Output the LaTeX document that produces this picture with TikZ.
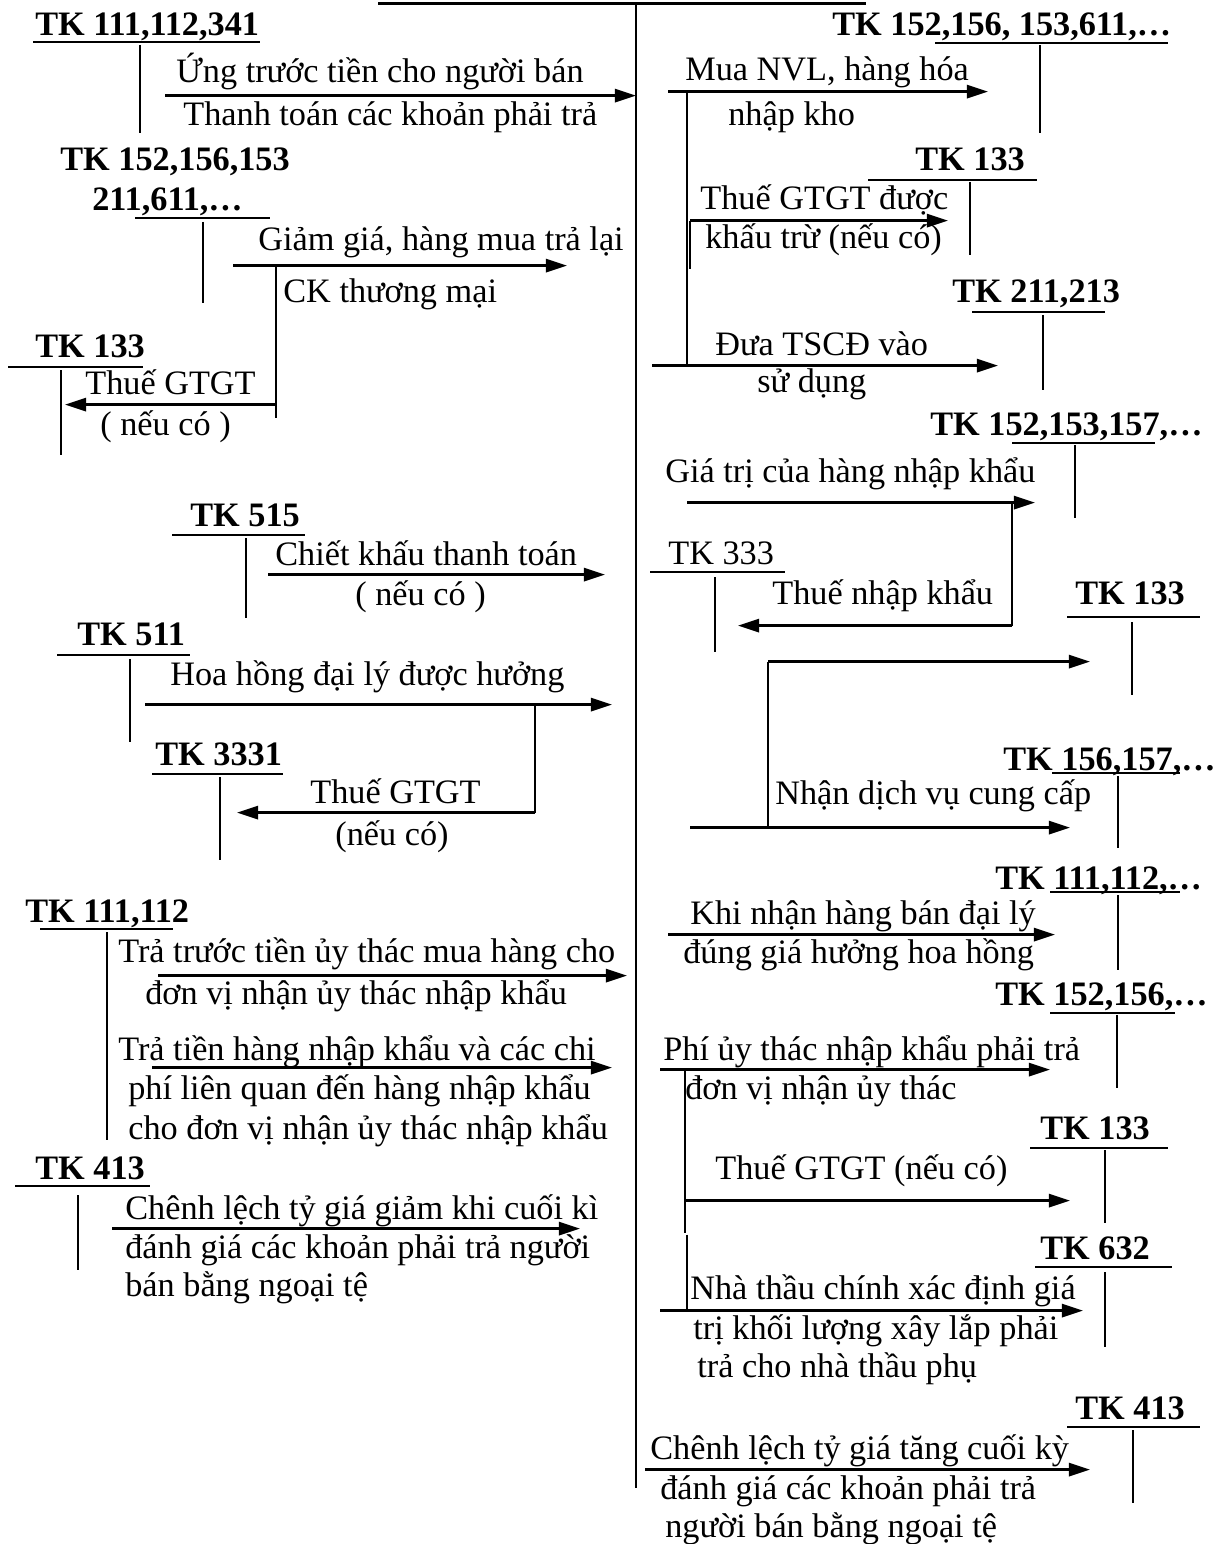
\documentclass[tikz,border=0pt]{standalone}
\usepackage{fontspec}
\setmainfont{Liberation Serif}
\usetikzlibrary{arrows.meta}
\newcommand{\diagfont}{\fontsize{19.5}{23}\selectfont}

\begin{document}
\begin{tikzpicture}[
    x=0.02cm, y=-0.02cm,
    every node/.style={inner sep=0pt, anchor=base west, yshift=-1.5pt, font=\diagfont},
    acct/.style={font=\diagfont\bfseries},
    tline/.style={line width=0.8pt},
    uline/.style={line width=1.1pt},
    arr/.style={line width=1.4pt, -{Triangle[length=12pt,width=7.5pt]}}
]
\useasboundingbox (0,0) rectangle (1224,1544);

% Frame
\coordinate (topL) at (378,1);
\coordinate (topR) at (866,1);
\coordinate (midT) at (636,0);
\coordinate (midB) at (636,1485);
\draw[line width=2pt] (topL) -- (topR);
\draw[line width=0.7pt] (midT) -- (midB);

% ---------------- Left side ----------------
% TK 111,112,341
\node[acct] (tk111a) at (35,33) {TK 111,112,341};
\draw[uline] (33,42) -- (260,42);
\draw[tline] (140,45) -- (140,133);
\node (ungtruoc) at (176,80) {Ứng trước tiền cho người bán};
\node (thanhtoan) at (183,123) {Thanh toán các khoản phải trả};
\coordinate (a1s) at (165,93);
\coordinate (a1e) at (636,93);
\draw[arr] (a1s) -- (a1e);

% TK 152,156,153 / 211,611
\node[acct] (tk152a) at (60,168) {TK 152,156,153};
\node[acct] (tk152b) at (92,208) {211,611,…};
\draw[uline] (135,218) -- (270,218);
\draw[tline] (203,222) -- (203,303);
\node (giamgia) at (258,248) {Giảm giá, hàng mua trả lại};
\node (ckthuongmai) at (283,300) {CK thương mại};
\coordinate (a2s) at (233,263);
\coordinate (a2e) at (567,263);
\coordinate (a2b) at (276,263);
\coordinate (a2k) at (276,415);
\coordinate (a3s) at (276,402);
\coordinate (a3e) at (65,402);
\draw[arr] (a2s) -- (a2e);
\draw[tline] (a2b) -- (a2k);
\draw[arr] (a3s) -- (a3e);

% TK 133
\node[acct] (tk133a) at (35,355) {TK 133};
\draw[uline] (8,367) -- (143,367);
\draw[tline] (61,370) -- (61,455);
\node (thuegtgta) at (85,392) {Thuế GTGT};
\node (neucoa) at (100,433) {( nếu có )};

% TK 515
\node[acct] (tk515) at (190,524) {TK 515};
\draw[uline] (172,535) -- (305,535);
\draw[tline] (246,538) -- (246,618);
\node (chietkhau) at (275,563) {Chiết khấu thanh toán};
\node (neucob) at (355,603) {( nếu có )};
\coordinate (a4s) at (268,572);
\coordinate (a4e) at (605,572);
\draw[arr] (a4s) -- (a4e);

% TK 511
\node[acct] (tk511) at (77,643) {TK 511};
\draw[uline] (57,655) -- (190,655);
\draw[tline] (130,659) -- (130,742);
\node (hoahong) at (170,683) {Hoa hồng đại lý được hưởng};
\coordinate (a5s) at (145,702);
\coordinate (a5e) at (612,702);
\coordinate (a5b) at (535,702);
\coordinate (a6s) at (535,810);
\coordinate (a6e) at (237,810);
\draw[arr] (a5s) -- (a5e);
\draw[tline] (a5b) -- (a6s);
\draw[arr] (a6s) -- (a6e);

% TK 3331
\node[acct] (tk3331) at (155,763) {TK 3331};
\draw[uline] (152,774) -- (283,774);
\draw[tline] (220,777) -- (220,860);
\node (thuegtgtb) at (310,801) {Thuế GTGT};
\node (neucoc) at (335,843) {(nếu có)};

% TK 111,112
\node[acct] (tk111b) at (25,920) {TK 111,112};
\draw[uline] (40,929) -- (173,929);
\draw[tline] (107,932) -- (107,1140);
\node (tratruoc) at (118,960) {Trả trước tiền ủy thác mua hàng cho};
\node (donvia) at (145,1002) {đơn vị nhận ủy thác nhập khẩu};
\coordinate (a7s) at (158,973);
\coordinate (a7e) at (627,973);
\draw[arr] (a7s) -- (a7e);
\node (tratien) at (118,1058) {Trả tiền hàng nhập khẩu và các chi};
\node (philienquan) at (128,1097) {phí liên quan đến hàng nhập khẩu};
\node (chodonvi) at (128,1137) {cho đơn vị nhận ủy thác nhập khẩu};
\coordinate (a8s) at (152,1065);
\coordinate (a8e) at (612,1065);
\draw[arr] (a8s) -- (a8e);

% TK 413
\node[acct] (tk413a) at (35,1177) {TK 413};
\draw[uline] (15,1186) -- (150,1186);
\draw[tline] (78,1195) -- (78,1270);
\node (chenhgiam) at (125,1217) {Chênh lệch tỷ giá giảm khi cuối kì};
\node (danhgiaa) at (125,1256) {đánh giá các khoản phải trả người};
\node (banbanga) at (125,1294) {bán bằng ngoại tệ};
\coordinate (a9s) at (112,1226);
\coordinate (a9e) at (580,1226);
\draw[arr] (a9s) -- (a9e);

% ---------------- Right side ----------------
% TK 152,156,153,611
\node[acct] (tk152c) at (832,33) {TK 152,156, 153,611,…};
\draw[uline] (935,43) -- (1168,43);
\draw[tline] (1040,45) -- (1040,133);
\node (muanvl) at (685,78) {Mua NVL, hàng hóa};
\node (nhapkho) at (728,123) {nhập kho};
\coordinate (b1s) at (668,89);
\coordinate (b1e) at (988,89);
\coordinate (b1b) at (687,89);
\coordinate (b1k) at (687,363);
\draw[arr] (b1s) -- (b1e);
\draw[tline] (b1b) -- (b1k);

% TK 133
\node[acct] (tk133b) at (915,168) {TK 133};
\draw[uline] (868,180) -- (1037,180);
\draw[tline] (970,182) -- (970,255);
\node (thueduoc) at (700,207) {Thuế GTGT được};
\node (khautru) at (705,246) {khấu trừ (nếu có)};
\coordinate (b2s) at (690,218);
\coordinate (b2e) at (948,218);
\coordinate (b2k) at (690,266);
\draw[arr] (b2s) -- (b2e);
\draw[tline] (b2s) -- (b2k);

% TK 211,213
\node[acct] (tk211) at (952,300) {TK 211,213};
\draw[uline] (972,312) -- (1105,312);
\draw[tline] (1043,315) -- (1043,390);
\node (duatscd) at (715,353) {Đưa TSCĐ vào};
\node (sudung) at (757,390) {sử dụng};
\coordinate (b3s) at (652,363);
\coordinate (b3e) at (998,363);
\draw[arr] (b3s) -- (b3e);

% TK 152,153,157
\node[acct] (tk152d) at (930,433) {TK 152,153,157,…};
\draw[uline] (1012,443) -- (1155,443);
\draw[tline] (1075,445) -- (1075,518);
\node (giatri) at (665,480) {Giá trị của hàng nhập khẩu};
\coordinate (b4s) at (687,500);
\coordinate (b4e) at (1035,500);
\coordinate (b4b) at (1012,500);
\coordinate (b5s) at (1012,623);
\coordinate (b5e) at (738,623);
\draw[arr] (b4s) -- (b4e);
\draw[tline] (b4b) -- (b5s);
\draw[arr] (b5s) -- (b5e);

% TK 333
\node (tk333) at (668,562) {TK 333};
\draw[uline] (650,572) -- (785,572);
\draw[tline] (715,577) -- (715,652);
\node (thuenk) at (772,602) {Thuế nhập khẩu};

% TK 133
\node[acct] (tk133c) at (1075,602) {TK 133};
\draw[uline] (1067,617) -- (1200,617);
\draw[tline] (1132,622) -- (1132,695);
\coordinate (b6s) at (768,659);
\coordinate (b6e) at (1090,659);
\coordinate (b6k) at (768,825);
\draw[arr] (b6s) -- (b6e);
\draw[tline] (b6s) -- (b6k);

% TK 156,157
\node[acct] (tk156) at (1003,768) {TK 156,157,…};
\draw[uline] (1052,773) -- (1180,773);
\draw[tline] (1118,776) -- (1118,848);
\node (nhandv) at (775,802) {Nhận dịch vụ cung cấp};
\coordinate (b7s) at (690,825);
\coordinate (b7e) at (1070,825);
\draw[arr] (b7s) -- (b7e);

% TK 111,112
\node[acct] (tk111c) at (995,887) {TK 111,112,…};
\draw[uline] (1050,892) -- (1180,892);
\draw[tline] (1118,895) -- (1118,970);
\node (khinhan) at (690,922) {Khi nhận hàng bán đại lý};
\node (dunggia) at (683,961) {đúng giá hưởng hoa hồng};
\coordinate (b8s) at (668,932);
\coordinate (b8e) at (1055,932);
\draw[arr] (b8s) -- (b8e);

% TK 152,156
\node[acct] (tk152e) at (995,1003) {TK 152,156,…};
\draw[uline] (1050,1013) -- (1175,1013);
\draw[tline] (1117,1015) -- (1117,1088);
\node (phiuythac) at (663,1058) {Phí ủy thác nhập khẩu phải trả};
\node (donvib) at (685,1097) {đơn vị nhận ủy thác};
\coordinate (b9s) at (660,1067);
\coordinate (b9e) at (1050,1067);
\coordinate (b9b) at (685,1067);
\coordinate (b9k) at (685,1230);
\draw[arr] (b9s) -- (b9e);
\draw[tline] (b9b) -- (b9k);

% TK 133
\node[acct] (tk133d) at (1040,1137) {TK 133};
\draw[uline] (1030,1148) -- (1168,1148);
\draw[tline] (1105,1150) -- (1105,1223);
\node (thuegtgtc) at (715,1177) {Thuế GTGT (nếu có)};
\coordinate (b10s) at (685,1198);
\coordinate (b10e) at (1070,1198);
\draw[arr] (b10s) -- (b10e);

% TK 632
\node[acct] (tk632) at (1040,1257) {TK 632};
\draw[uline] (1035,1267) -- (1172,1267);
\draw[tline] (1105,1272) -- (1105,1347);
\node (nhathau) at (690,1297) {Nhà thầu chính xác định giá};
\node (trikhoi) at (693,1337) {trị khối lượng xây lắp phải};
\node (trachonha) at (697,1375) {trả cho nhà thầu phụ};
\coordinate (b11s) at (660,1308);
\coordinate (b11e) at (1083,1308);
\coordinate (b11b) at (687,1232);
\coordinate (b11k) at (687,1308);
\draw[arr] (b11s) -- (b11e);
\draw[line width=1.3pt] (b11b) -- (b11k);

% TK 413
\node[acct] (tk413b) at (1075,1417) {TK 413};
\draw[uline] (1067,1427) -- (1200,1427);
\draw[tline] (1133,1430) -- (1133,1503);
\node (chenhtang) at (650,1457) {Chênh lệch tỷ giá tăng cuối kỳ};
\node (danhgiab) at (660,1497) {đánh giá các khoản phải trả};
\node (nguoiban) at (665,1535) {người bán bằng ngoại tệ};
\coordinate (b12s) at (645,1467);
\coordinate (b12e) at (1090,1467);
\draw[arr] (b12s) -- (b12e);

\end{tikzpicture}
\end{document}
